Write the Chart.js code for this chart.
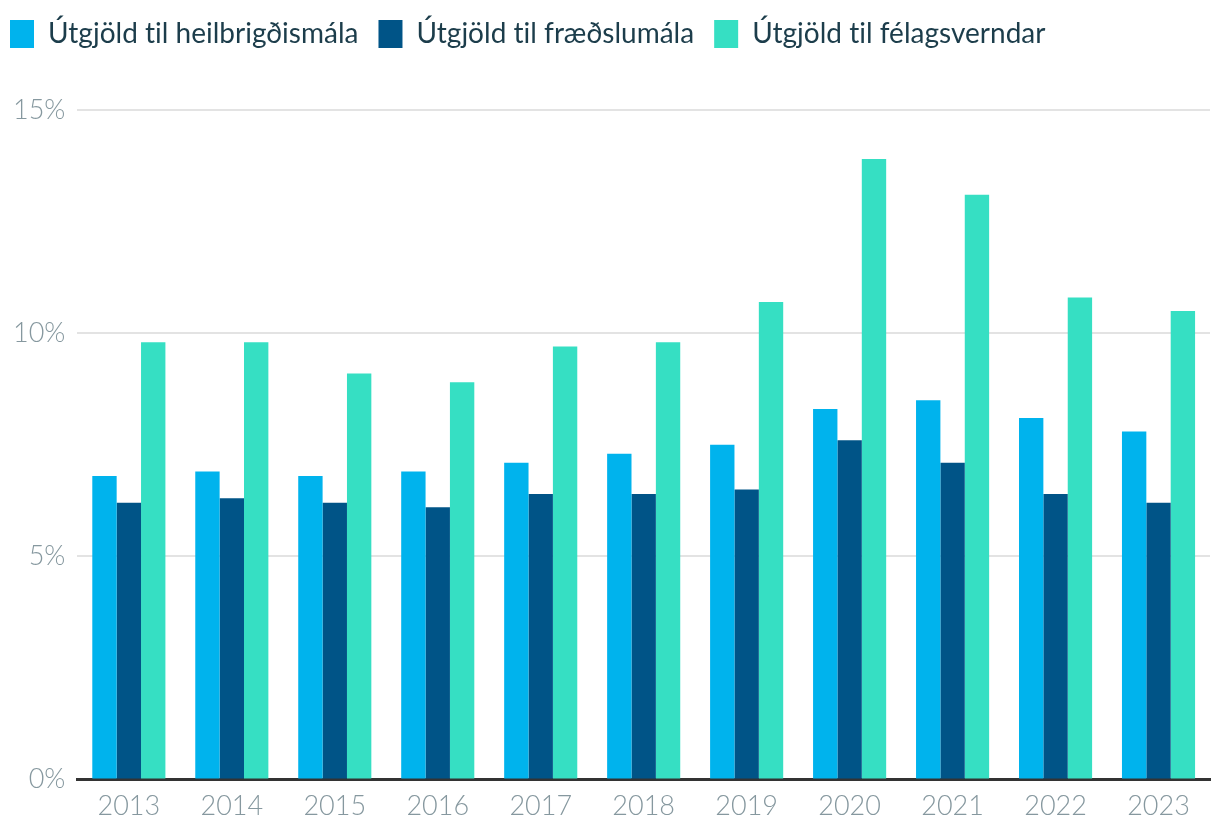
<!DOCTYPE html>
<html>
<head>
<meta charset="utf-8">
<script src="https://cdn.jsdelivr.net/npm/chart.js@4"></script>
<style>
  html, body { margin: 0; padding: 0; background: #fff; }
</style>
</head>
<body>
<canvas id="chart" width="1220" height="840"></canvas>
<script>
const years = ['2013', '2014', '2015', '2016', '2017', '2018', '2019', '2020', '2021', '2022', '2023'];
const seriesNames = ['Útgjöld til heilbrigðismála', 'Útgjöld til fræðslumála', 'Útgjöld til félagsverndar'];
const health = [6.8, 6.9, 6.8, 6.9, 7.1, 7.3, 7.5, 8.3, 8.5, 8.1, 7.8];
const education = [6.2, 6.3, 6.2, 6.1, 6.4, 6.4, 6.5, 7.6, 7.1, 6.4, 6.2];
const social = [9.8, 9.8, 9.1, 8.9, 9.7, 9.8, 10.7, 13.9, 13.1, 10.8, 10.5];
const colors = ['#00b3ed', '#005487', '#36dfc3'];

const tickFont = { family: 'Lato', size: 27, weight: 300 };
const tickColor = '#86989f';

// no "ti" ligature, like the original
const noLigatures = {
  id: 'noLigatures',
  beforeDraw(chart) { chart.ctx.letterSpacing = '0.01px'; }
};

// more room under the legend, and pull it to the left edge
const legendSpace = {
  id: 'legendSpace',
  beforeInit(chart) {
    const fit = chart.legend.fit;
    chart.legend.fit = function () {
      fit.bind(chart.legend)();
      this.height += 52;
    };
  },
  afterLayout(chart) {
    chart.legend.left -= 11;
  }
};

new Chart(document.getElementById('chart'), {
  type: 'bar',
  data: {
    labels: years,
    datasets: [health, education, social].map((d, i) => ({
      label: seriesNames[i],
      data: d,
      backgroundColor: colors[i],
      borderWidth: 0,
      categoryPercentage: 0.71,
      barPercentage: 1.0,
    }))
  },
  options: {
    responsive: false,
    animation: false,
    devicePixelRatio: 1,
    layout: { padding: { left: 1, right: 10, top: 0, bottom: 8 } },
    plugins: {
      tooltip: { enabled: false },
      legend: {
        position: 'top',
        align: 'start',
        labels: {
          boxWidth: 24,
          boxHeight: 28,
          padding: 20,
          color: '#1c3d4b',
          font: { family: 'Lato', size: 28 }
        }
      }
    },
    scales: {
      x: {
        grid: { display: false, drawTicks: false },
        border: { display: true, color: '#333', width: 3 },
        ticks: { color: tickColor, font: tickFont, padding: 10, maxRotation: 0 }
      },
      y: {
        min: 0,
        max: 15,
        grid: { color: '#e3e3e3', lineWidth: 2, drawTicks: false },
        border: { display: false },
        ticks: {
          stepSize: 5,
          color: tickColor,
          font: tickFont,
          padding: 12,
          callback: v => v + '%'
        }
      }
    }
  },
  plugins: [noLigatures, legendSpace]
});
</script>
</body>
</html>
